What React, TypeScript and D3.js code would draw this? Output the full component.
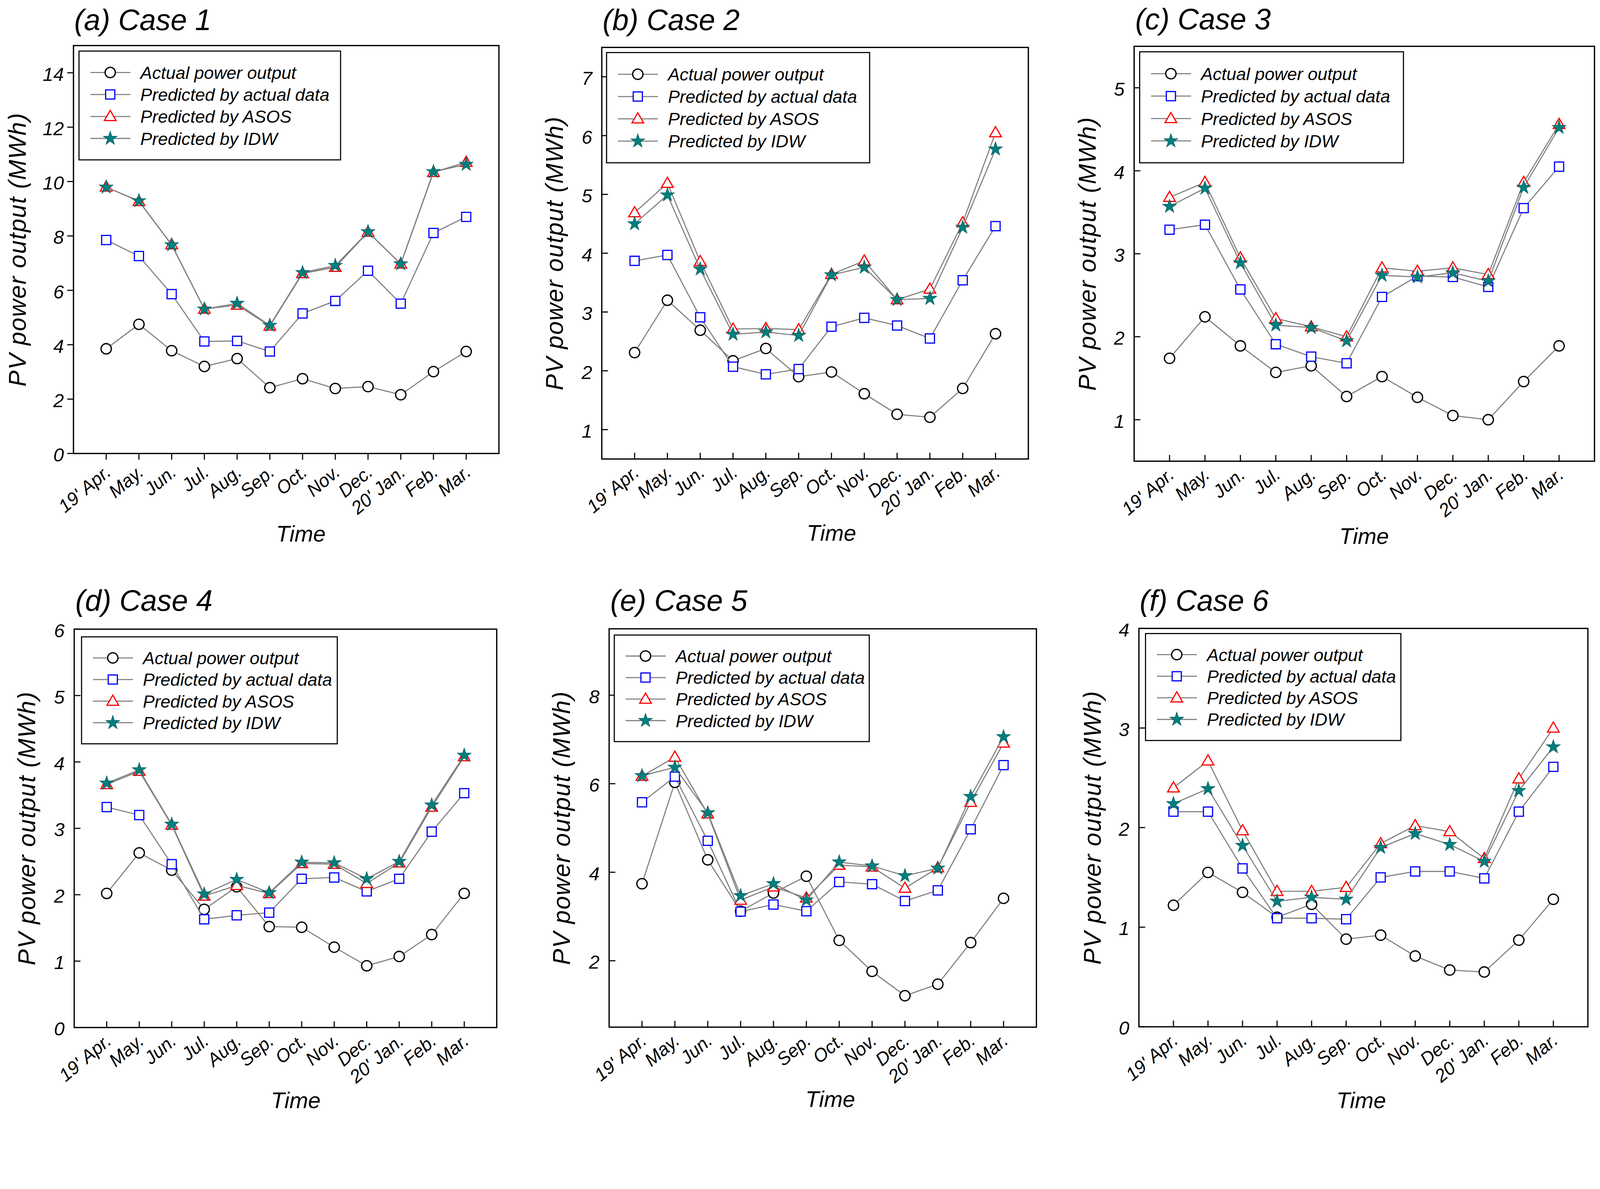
import React, { useEffect } from 'react'
import * as d3 from 'd3'

// x categories and legend names
const months = ["19' Apr.", 'May.', 'Jun.', 'Jul.', 'Aug.', 'Sep.', 'Oct.', 'Nov.', 'Dec.', "20' Jan.", 'Feb.', 'Mar.']
const seriesNames = ['Actual power output', 'Predicted by actual data', 'Predicted by ASOS', 'Predicted by IDW']

// Case 1
const case1Actual = [3.85, 4.75, 3.78, 3.2, 3.49, 2.42, 2.75, 2.39, 2.46, 2.16, 3.01, 3.75]
const case1PredActual = [7.85, 7.26, 5.86, 4.12, 4.14, 3.75, 5.15, 5.61, 6.72, 5.51, 8.11, 8.7]
const case1Asos = [9.8, 9.27, 7.68, 5.31, 5.46, 4.69, 6.62, 6.85, 8.14, 6.97, 10.34, 10.71]
const case1Idw = [9.79, 9.29, 7.67, 5.31, 5.52, 4.71, 6.65, 6.91, 8.15, 6.97, 10.36, 10.63]
const case1Ticks = [0, 2, 4, 6, 8, 10, 12, 14]

// Case 2
const case2Actual = [2.31, 3.2, 2.69, 2.17, 2.38, 1.9, 1.98, 1.61, 1.26, 1.21, 1.7, 2.63]
const case2PredActual = [3.87, 3.97, 2.91, 2.07, 1.94, 2.03, 2.75, 2.9, 2.77, 2.55, 3.54, 4.46]
const case2Asos = [4.69, 5.19, 3.86, 2.71, 2.72, 2.7, 3.64, 3.87, 3.21, 3.39, 4.52, 6.05]
const case2Idw = [4.5, 4.99, 3.73, 2.62, 2.66, 2.6, 3.63, 3.76, 3.21, 3.23, 4.44, 5.77]
const case2Ticks = [1, 2, 3, 4, 5, 6, 7]

// Case 3
const case3Actual = [1.74, 2.24, 1.89, 1.57, 1.65, 1.28, 1.52, 1.27, 1.05, 1.0, 1.46, 1.89]
const case3PredActual = [3.29, 3.35, 2.57, 1.91, 1.76, 1.68, 2.48, 2.73, 2.72, 2.6, 3.55, 4.05]
const case3Asos = [3.68, 3.86, 2.95, 2.22, 2.12, 2.0, 2.83, 2.79, 2.83, 2.75, 3.86, 4.56]
const case3Idw = [3.57, 3.79, 2.89, 2.14, 2.11, 1.95, 2.74, 2.72, 2.77, 2.67, 3.8, 4.52]
const case3Ticks = [1, 2, 3, 4, 5]

// Case 4
const case4Actual = [2.02, 2.63, 2.37, 1.78, 2.12, 1.52, 1.51, 1.21, 0.93, 1.07, 1.4, 2.02]
const case4PredActual = [3.32, 3.2, 2.46, 1.63, 1.69, 1.73, 2.24, 2.26, 2.05, 2.24, 2.95, 3.53]
const case4Asos = [3.66, 3.86, 3.05, 1.98, 2.14, 2.02, 2.47, 2.46, 2.17, 2.48, 3.32, 4.08]
const case4Idw = [3.68, 3.88, 3.06, 2.01, 2.23, 2.03, 2.49, 2.48, 2.24, 2.5, 3.35, 4.1]
const case4Ticks = [0, 1, 2, 3, 4, 5, 6]

// Case 5
const case5Actual = [3.74, 6.03, 4.28, 3.12, 3.53, 3.91, 2.46, 1.76, 1.21, 1.47, 2.41, 3.41]
const case5PredActual = [5.58, 6.16, 4.71, 3.11, 3.27, 3.12, 3.78, 3.73, 3.35, 3.59, 4.97, 6.42]
const case5Asos = [6.17, 6.6, 5.32, 3.37, 3.67, 3.42, 4.16, 4.12, 3.64, 4.1, 5.58, 6.92]
const case5Idw = [6.18, 6.37, 5.34, 3.47, 3.74, 3.37, 4.23, 4.14, 3.92, 4.09, 5.71, 7.06]
const case5Ticks = [2, 4, 6, 8]

// Case 6
const case6Actual = [1.22, 1.55, 1.35, 1.1, 1.23, 0.88, 0.92, 0.71, 0.57, 0.55, 0.87, 1.28]
const case6PredActual = [2.16, 2.16, 1.59, 1.09, 1.09, 1.08, 1.5, 1.56, 1.56, 1.49, 2.16, 2.61]
const case6Asos = [2.4, 2.67, 1.97, 1.36, 1.36, 1.4, 1.84, 2.02, 1.96, 1.69, 2.49, 3.0]
const case6Idw = [2.24, 2.39, 1.82, 1.26, 1.3, 1.28, 1.8, 1.94, 1.83, 1.66, 2.37, 2.81]
const case6Ticks = [0, 1, 2, 3, 4]

const W = 4355
const H = 3043
const FONT = "'Liberation Sans', Arial, Helvetica, sans-serif"
const LINE_GRAY = '#808080'
const TEAL = '#007f7f'

type Kind = 'circle' | 'square' | 'triangle' | 'star'
const kinds: Kind[] = ['circle', 'square', 'triangle', 'star']

interface PanelDef {
  title: string
  titlePos: [number, number]
  series: number[][]
  yDomain: [number, number]
  yTicks: number[]
  frame: { x: number; y: number; w: number; h: number }
  ticksOut: boolean
  yLabelX: number
  timeX: number
  timeGap: number
  legend: { dx: number; dy: number; w: number; h: number }
}

// layout of the six panels (pixel positions in the 4355x3043 figure)
const panels: PanelDef[] = [
  {
    title: '(a) Case 1', titlePos: [202, 82],
    series: [case1Actual, case1PredActual, case1Asos, case1Idw],
    yDomain: [0, 15], yTicks: case1Ticks,
    frame: { x: 200, y: 124, w: 1158, h: 1110 }, ticksOut: true, yLabelX: 70, timeX: 819, timeGap: 240,
    legend: { dx: 15, dy: 15, w: 712, h: 296 },
  },
  {
    title: '(b) Case 2', titlePos: [1640, 82],
    series: [case2Actual, case2PredActual, case2Asos, case2Idw],
    yDomain: [0.5, 7.5], yTicks: case2Ticks,
    frame: { x: 1638, y: 129, w: 1161, h: 1120 }, ticksOut: false, yLabelX: 1532, timeX: 2263, timeGap: 222,
    legend: { dx: 13, dy: 14, w: 716, h: 300 },
  },
  {
    title: '(c) Case 3', titlePos: [3090, 80],
    series: [case3Actual, case3PredActual, case3Asos, case3Idw],
    yDomain: [0.5, 5.5], yTicks: case3Ticks,
    frame: { x: 3087, y: 126, w: 1253, h: 1129 }, ticksOut: false, yLabelX: 2982, timeX: 3713, timeGap: 225,
    legend: { dx: 15, dy: 15, w: 718, h: 302 },
  },
  {
    title: '(d) Case 4', titlePos: [205, 1662],
    series: [case4Actual, case4PredActual, case4Asos, case4Idw],
    yDomain: [0, 6], yTicks: case4Ticks,
    frame: { x: 202, y: 1712, w: 1150, h: 1084 }, ticksOut: false, yLabelX: 96, timeX: 805, timeGap: 219,
    legend: { dx: 20, dy: 21, w: 696, h: 291 },
  },
  {
    title: '(e) Case 5', titlePos: [1661, 1662],
    series: [case5Actual, case5PredActual, case5Asos, case5Idw],
    yDomain: [0.5, 9.5], yTicks: case5Ticks,
    frame: { x: 1658, y: 1711, w: 1163, h: 1084 }, ticksOut: false, yLabelX: 1551, timeX: 2260, timeGap: 217,
    legend: { dx: 14, dy: 17, w: 694, h: 290 },
  },
  {
    title: '(f) Case 6', titlePos: [3102, 1662],
    series: [case6Actual, case6PredActual, case6Asos, case6Idw],
    yDomain: [0, 4], yTicks: case6Ticks,
    frame: { x: 3100, y: 1710, w: 1222, h: 1084 }, ticksOut: false, yLabelX: 2996, timeX: 3705, timeGap: 221,
    legend: { dx: 18, dy: 14, w: 695, h: 291 },
  },
]

const squarePath = d3.symbol().type(d3.symbolSquare).size(620)() as string
const trianglePath = d3.symbol().type(d3.symbolTriangle).size(440)() as string
const starPath = d3.symbol().type(d3.symbolStar).size(430)() as string

function Marker({ kind, cx, cy }: { kind: Kind; cx: number; cy: number }) {
  if (kind === 'circle') {
    return <circle cx={cx} cy={cy} r={14} fill="#fff" stroke="#000" strokeWidth={3.5} />
  }
  if (kind === 'square') {
    return <path d={squarePath} transform={`translate(${cx},${cy})`} fill="#fff" stroke="#0000ff" strokeWidth={3.2} />
  }
  if (kind === 'triangle') {
    return <path d={trianglePath} transform={`translate(${cx},${cy + 2})`} fill="#fff" stroke="#ff0000" strokeWidth={3.2} />
  }
  return <path d={starPath} transform={`translate(${cx},${cy})`} fill={TEAL} stroke="#006060" strokeWidth={1.5} />
}

function Panel({ p }: { p: PanelDef }) {
  const { x: fx, y: fy, w: fw, h: fh } = p.frame
  const x = d3.scaleLinear().domain([-1, months.length]).range([fx, fx + fw])
  const y = d3.scaleLinear().domain(p.yDomain).range([fy + fh, fy])
  const line = d3.line<number>().x((_, i) => x(i)).y(d => y(d))
  const tl = 17
  const bottom = fy + fh
  const xLabOff = p.ticksOut ? 56 : 42

  const lg = p.legend
  const lx = fx + lg.dx
  const ly = fy + lg.dy
  const rowGap = lg.h * 0.202
  const firstRow = lg.h * 0.197

  return (
    <g>
      {/* title */}
      <text x={p.titlePos[0]} y={p.titlePos[1]} fontSize={80} fontStyle="italic" fontFamily={FONT}>{p.title}</text>

      {/* series */}
      {p.series.map((s, si) => (
        <g key={si}>
          <path d={line(s) as string} fill="none" stroke={LINE_GRAY} strokeWidth={3} />
          {s.map((v, i) => <Marker key={i} kind={kinds[si]} cx={x(i)} cy={y(v)} />)}
        </g>
      ))}

      {/* frame */}
      <rect x={fx} y={fy} width={fw} height={fh} fill="none" stroke="#000" strokeWidth={3.5} />

      {/* y ticks */}
      {p.yTicks.map(t => (
        <g key={t}>
          <line x1={fx} x2={p.ticksOut ? fx - tl : fx + tl} y1={y(t)} y2={y(t)} stroke="#000" strokeWidth={3} />
          <text x={fx - 26} y={y(t)} dy="0.42em" textAnchor="end" fontSize={52} fontStyle="italic" fontFamily={FONT}>{t}</text>
        </g>
      ))}

      {/* x ticks */}
      {months.map((m, i) => (
        <g key={m}>
          <line x1={x(i)} x2={x(i)} y1={bottom} y2={p.ticksOut ? bottom + tl : bottom - tl} stroke="#000" strokeWidth={3} />
          <text transform={`translate(${x(i) + 16},${bottom + xLabOff}) rotate(-40)`} textAnchor="end"
            fontSize={50} fontStyle="italic" fontFamily={FONT}>{m}</text>
        </g>
      ))}

      {/* axis titles */}
      <text x={p.timeX} y={bottom + p.timeGap} textAnchor="middle" fontSize={61} fontStyle="italic" fontFamily={FONT}>Time</text>
      <text transform={`translate(${p.yLabelX},${fy + fh / 2}) rotate(-90)`} textAnchor="middle"
        fontSize={66} letterSpacing={2} fontStyle="italic" fontFamily={FONT}>PV power output (MWh)</text>

      {/* legend */}
      <rect x={lx} y={ly} width={lg.w} height={lg.h} fill="#fff" stroke="#000" strokeWidth={3} />
      {seriesNames.map((name, i) => {
        const ry = ly + firstRow + i * rowGap
        return (
          <g key={name}>
            <line x1={lx + 31} x2={lx + 140} y1={ry} y2={ry} stroke={LINE_GRAY} strokeWidth={3} />
            <Marker kind={kinds[i]} cx={lx + 85} cy={ry} />
            <text x={lx + 167} y={ry} dy="0.36em" fontSize={48} fontStyle="italic" fontFamily={FONT}>{name}</text>
          </g>
        )
      })}
    </g>
  )
}

const App: React.FC = () => {
  useEffect(() => {
    document.body.style.margin = '0'
    document.body.style.overflow = 'hidden'
  }, [])

  return (
    <svg viewBox={`0 0 ${W} ${H}`} preserveAspectRatio="xMinYMin meet"
      style={{ position: 'absolute', left: 0, top: 0, width: '100vw', height: '100vh', background: '#fff', display: 'block' }}>
      <rect x={0} y={0} width={W} height={H} fill="#fff" />
      {panels.map(p => <Panel key={p.title} p={p} />)}
    </svg>
  )
}

export default App
